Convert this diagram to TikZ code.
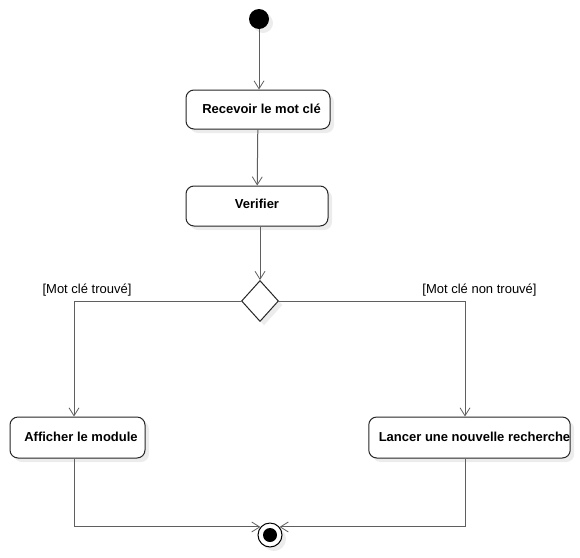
\documentclass[tikz,border=0pt]{standalone}
\usepackage{fontspec}
\setmainfont{Liberation Sans}
\usetikzlibrary{shapes.geometric,shadows,arrows.meta}
\definecolor{linegray}{RGB}{95,95,95}
\definecolor{shadowgray}{RGB}{236,236,236}
\tikzset{
  umlshadow/.style={general shadow={fill=shadowgray,shadow xshift=4pt,shadow yshift=-4pt}},
  action/.style={draw=black!85,line width=1pt,rounded corners=8pt,fill=white,umlshadow,inner sep=0pt,
    font=\fontsize{13}{15}\selectfont\bfseries},
  guard/.style={inner sep=0pt,font=\fontsize{13}{15}\selectfont},
  flow/.style={draw=linegray,line width=1pt,-{Straight Barb[length=8pt,width=10pt,line width=0.8pt]}}
}
\begin{document}
\begin{tikzpicture}[x=1pt,y=-1pt]%
\useasboundingbox (0,0) rectangle (580,557);%
\node[circle,fill=black,minimum size=20pt,inner sep=0pt,umlshadow] (start) at (259,19) {};%
\node[action,minimum width=144pt,minimum height=39pt] (recv) at (258,109.5) {\hspace*{7pt}\raisebox{1.5pt}{Recevoir le mot clé}};%
\node[action,minimum width=142pt,minimum height=40pt] (verif) at (257,206) {\raisebox{4.5pt}{Verifier}};%
\node[diamond,draw=black!85,line width=1pt,fill=white,umlshadow,minimum width=37pt,minimum height=41pt,inner sep=0pt] (dec) at (260,301) {};%
\node[action,minimum width=135pt,minimum height=41pt] (affich) at (77.5,437.5) {\hspace*{7pt}\raisebox{2pt}{Afficher le module}};%
\node[action,minimum width=201pt,minimum height=41pt] (lancer) at (469.5,437.5) {\hspace*{10pt}\raisebox{2pt}{Lancer une nouvelle recherche}};%
\node[circle,draw=black,line width=1pt,fill=white,minimum size=24pt,inner sep=0pt,umlshadow] (fin) at (270,535) {};%
\node[circle,fill=black,minimum size=14pt,inner sep=0pt] (findot) at (fin) {};%
\node[guard] (lblyes) at (87,290) {[Mot clé trouvé]};%
\node[guard] (lblno) at (479.5,290) {[Mot clé non trouvé]};%
\draw[flow] (start) -- (start |- recv.north);%
\draw[flow] (recv) -- (verif);%
\draw[flow] (verif.south -| dec) -- (dec.north);%
\draw[flow] (dec.west) -| ([xshift=-3.5pt]affich.north);%
\draw[flow] (dec.east) -| ([xshift=-4.5pt]lancer.north);%
\draw[flow] ([xshift=-3.5pt]affich.south) |- (fin.140);%
\draw[flow] ([xshift=-4.5pt]lancer.south) |- (fin.40);%
\end{tikzpicture}
\end{document}
